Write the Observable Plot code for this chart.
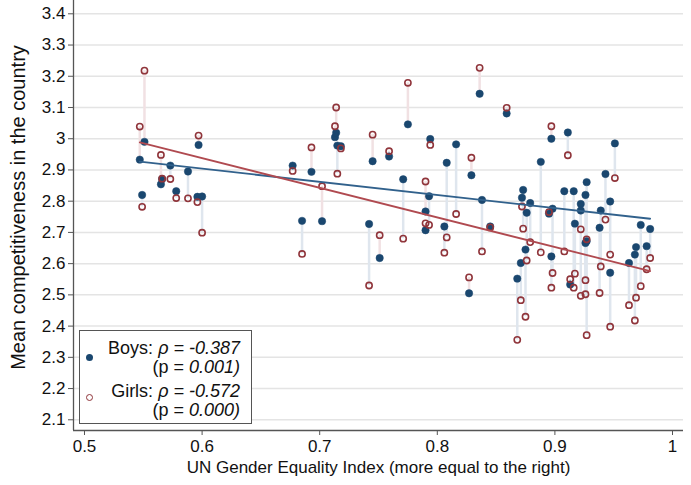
<!DOCTYPE html>
<html>
<head>
<meta charset="utf-8">
<script src="https://cdn.jsdelivr.net/npm/d3@7"></script>
<script src="https://cdn.jsdelivr.net/npm/@observablehq/plot@0.6"></script>
<style>
  body { margin: 0; background: #fff; font-family: "Liberation Sans", Arial, Helvetica, sans-serif; }
  #chart { position: relative; width: 691px; height: 485px; }
  .legend { position: absolute; left: 79px; top: 330px; width: 173px; height: 94px;
            box-sizing: border-box; border: 1.5px solid #555; background: #fff;
            font-size: 18px; color: #111; }
  .legend .ln { position: absolute; right: 11px; line-height: 17px; white-space: nowrap; }
  .legend .sym { position: absolute; width: 7px; height: 7px; border-radius: 50%; box-sizing: border-box; }
</style>
</head>
<body>
<div id="chart"></div>
<script>
// UN Gender Equality Index of each country
const gei = [
  0.547, 0.549, 0.551, 0.565, 0.566, 0.573, 0.578, 0.588, 0.596, 0.597, 0.600,
  0.677, 0.685, 0.693, 0.702, 0.713, 0.714, 0.715, 0.718,
  0.742, 0.745, 0.751, 0.759, 0.771, 0.775,
  0.790, 0.790, 0.793, 0.794, 0.806, 0.808, 0.816, 0.827, 0.829, 0.836, 0.838, 0.845, 0.859,
  0.868, 0.871, 0.872, 0.873, 0.875, 0.876, 0.879, 0.888,
  0.895, 0.897, 0.897, 0.898, 0.908, 0.911, 0.913, 0.916, 0.917,
  0.922, 0.922, 0.926, 0.926, 0.927, 0.927,
  0.938, 0.939, 0.943, 0.947, 0.947, 0.951,
  0.963, 0.968, 0.969, 0.973, 0.978, 0.981
];
// Mean competitiveness of boys in each country
const boys = [
  2.933, 2.820, 2.990, 2.854, 2.871, 2.914, 2.832, 2.895, 2.814, 2.980, 2.815,
  2.914, 2.737, 2.894, 2.736, 3.005, 3.019, 2.978, 2.976,
  2.727, 2.928, 2.618, 2.943, 2.870, 3.046,
  2.767, 2.707, 2.816, 2.999, 2.719, 2.923, 2.982, 2.505, 2.883, 3.144, 2.804, 2.719, 3.081,
  2.552, 2.602, 2.811, 2.836, 2.645, 2.763, 2.794, 2.926,
  2.760, 2.623, 3.000, 2.776, 2.832, 3.020, 2.533, 2.832, 2.728,
  2.791, 2.770, 2.820, 2.666, 2.861, 2.672,
  2.715, 2.770, 2.887, 2.799, 2.571, 2.985,
  2.602, 2.629, 2.653, 2.724, 2.656, 2.711
];
// Mean competitiveness of girls in each country
const girls = [
  3.039, 2.782, 3.218, 2.948, 2.872, 2.871, 2.810, 2.809, 2.797, 3.010, 2.699,
  2.897, 2.631, 2.972, 2.848, 3.040, 3.100, 2.888, 2.969,
  2.530, 3.013, 2.691, 2.960, 2.680, 3.179,
  2.863, 2.729, 2.724, 2.980, 2.635, 2.684, 2.759, 2.556, 2.939, 3.227, 2.639, 2.716, 3.099,
  2.356, 2.483, 2.783, 2.712, 2.430, 2.610, 2.669, 2.636,
  2.765, 2.523, 3.040, 2.570, 2.639, 2.947, 2.550, 2.523, 2.568,
  2.710, 2.497, 2.502, 2.547, 2.371, 2.678,
  2.506, 2.591, 2.741, 2.629, 2.398, 2.874,
  2.467, 2.418, 2.491, 2.528, 2.582, 2.618
];

const xTicks = [0.5, 0.6, 0.7, 0.8, 0.9, 1];
const yTicks = [2.1, 2.2, 2.3, 2.4, 2.5, 2.6, 2.7, 2.8, 2.9, 3, 3.1, 3.2, 3.3, 3.4];
const xTitle = "UN Gender Equality Index (more equal to the right)";
const yTitle = "Mean competitiveness in the country";

const rows = gei.map((g, i) => ({gei: g, boys: boys[i], girls: girls[i]}));

const navy = "#1a476f";
const maroon = "#90353b";
const font = '"Liberation Sans", Arial, Helvetica, sans-serif';
const xDomain = [0.49065, 1.00935];
const yDomain = [2.0657, 3.4426];
const axisColor = "#555";
const fmt = d => String(d);

const chart = Plot.plot({
  width: 691,
  height: 485,
  marginLeft: 73,
  marginRight: 8,
  marginTop: 0,
  marginBottom: 55,
  x: {domain: xDomain},
  y: {domain: yDomain},
  style: {fontFamily: font, fontSize: "17px", color: "#111", background: "#fff"},
  marks: [
    Plot.gridY(yTicks, {stroke: "#e4e4e4", strokeOpacity: 1, strokeWidth: 1.5}),
    // spikes joining boys and girls of the same country
    Plot.ruleX(rows, {filter: d => d.boys >= d.girls, x: "gei", y1: "boys", y2: "girls",
                      stroke: "#dfe6ee", strokeWidth: 2.5}),
    Plot.ruleX(rows, {filter: d => d.boys < d.girls, x: "gei", y1: "boys", y2: "girls",
                      stroke: "#f1e1e3", strokeWidth: 2.5}),
    Plot.dot(rows, {x: "gei", y: "boys", r: 3.7, fill: navy, stroke: navy, strokeWidth: 0.5}),
    Plot.dot(rows, {x: "gei", y: "girls", r: 3.1, fill: "none", stroke: maroon, strokeWidth: 1.6}),
    Plot.linearRegressionY(rows, {x: "gei", y: "boys", ci: 0, stroke: "#31618c", strokeWidth: 1.8}),
    Plot.linearRegressionY(rows, {x: "gei", y: "girls", ci: 0, stroke: "#b04a50", strokeWidth: 1.8}),
    Plot.axisY(yTicks, {tickSize: 5, tickPadding: 3, tickFormat: fmt, label: null,
                        stroke: axisColor, fontSize: 17, fill: "#111"}),
    Plot.axisX(xTicks, {tickSize: 5, tickPadding: 4, tickFormat: fmt, label: null,
                        stroke: axisColor, fontSize: 17, fill: "#111"}),
    Plot.ruleX([xDomain[0]], {stroke: axisColor, strokeWidth: 1.3}),
    Plot.ruleY([yDomain[0]], {stroke: axisColor, strokeWidth: 1.3}),
    Plot.text([yTitle], {text: d => d, frameAnchor: "left", textAnchor: "middle", lineAnchor: "middle",
                         dx: -55, dy: -8, rotate: -90, fontSize: 20, fill: "#111"}),
    Plot.text([xTitle], {text: d => d, frameAnchor: "bottom", textAnchor: "middle", lineAnchor: "middle",
                         dy: 37, fontSize: 17, fill: "#111"})
  ]
});

const root = document.getElementById("chart");
root.appendChild(chart);

// legend box in the lower left corner of the plot
const legend = document.createElement("div");
legend.className = "legend";
legend.innerHTML = `
  <span class="sym" style="left:6px;top:23px;background:${navy};"></span>
  <div class="ln" style="top:9px;">Boys: <i>ρ = -0.387</i></div>
  <div class="ln" style="top:28px;">(p = <i>0.001)</i></div>
  <span class="sym" style="left:6px;top:63px;border:1.5px solid ${maroon};"></span>
  <div class="ln" style="top:52px;">Girls: <i>ρ = -0.572</i></div>
  <div class="ln" style="top:71px;">(p = <i>0.000)</i></div>
`;
root.appendChild(legend);
</script>
</body>
</html>
